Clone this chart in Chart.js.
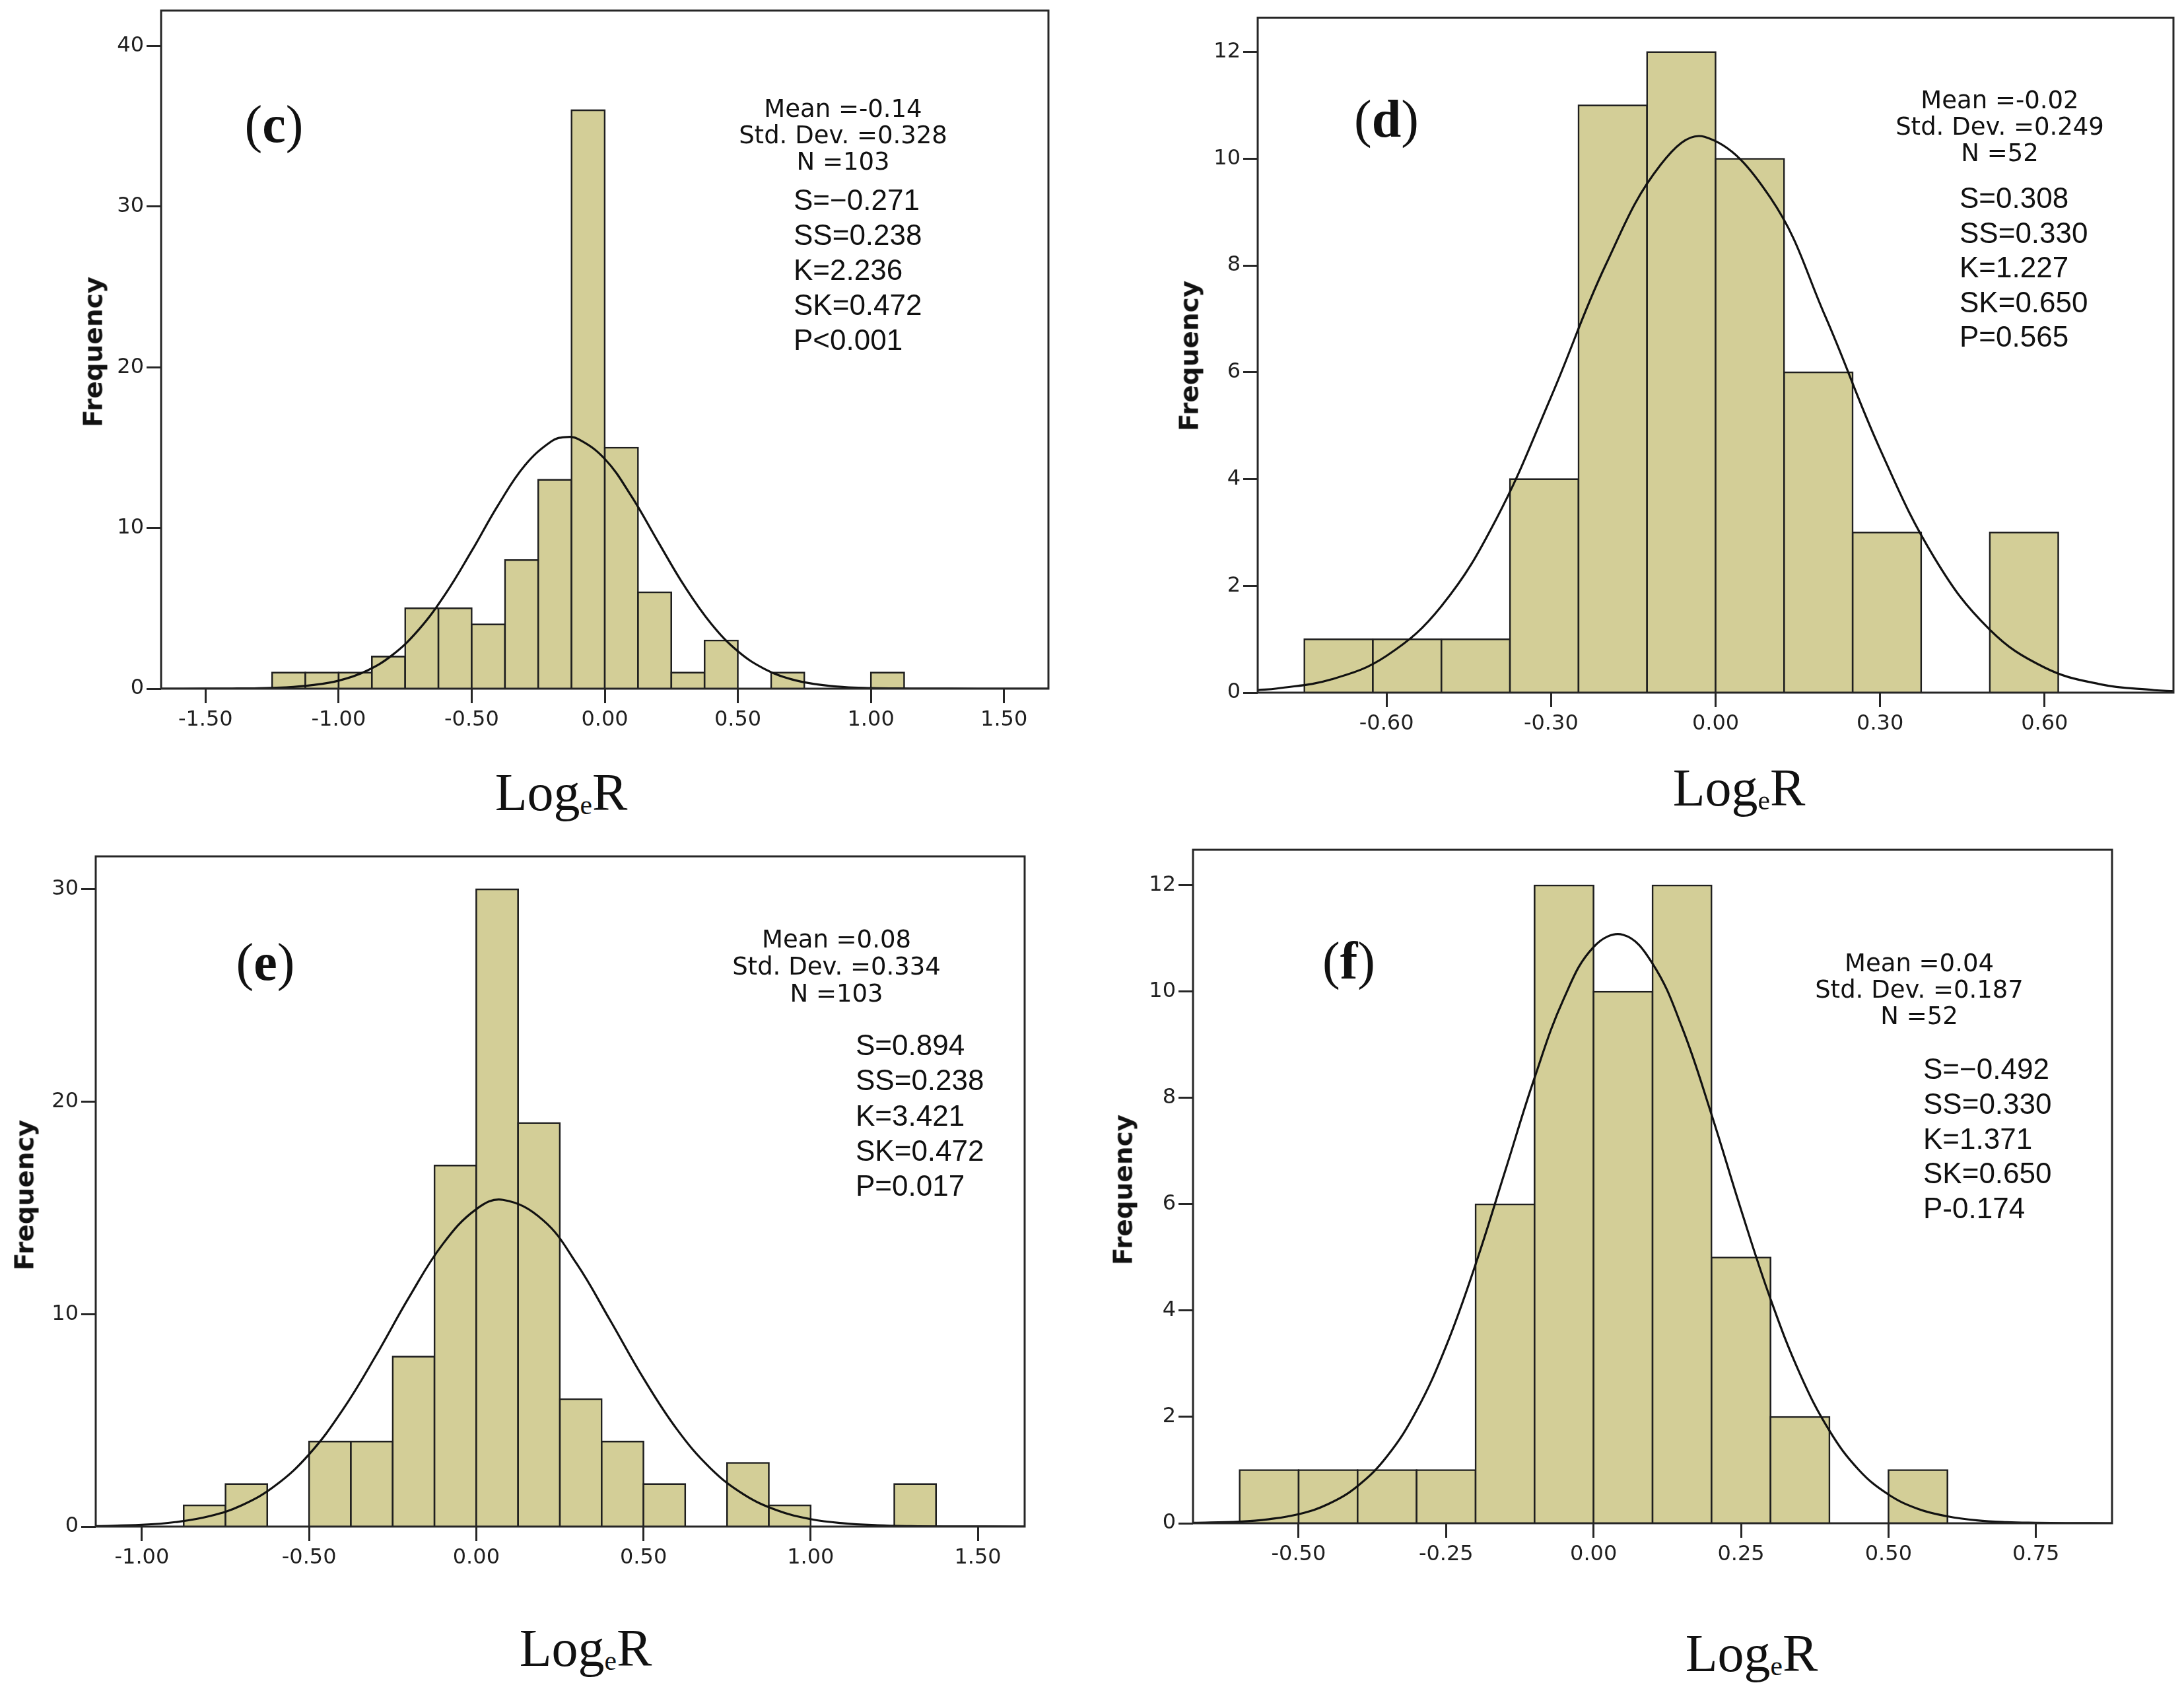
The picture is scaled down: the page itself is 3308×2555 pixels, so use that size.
<!DOCTYPE html>
<html>
<head>
<meta charset="utf-8">
<title>LogeR histograms</title>
<script src="https://cdn.jsdelivr.net/npm/chart.js@4"></script>
<style>
  body { margin: 0; background: #fff; }
  #page { position: relative; width: 3308px; height: 2555px; overflow: hidden; color: #111; }
  canvas { position: absolute; }
  .lbl { position: absolute; white-space: nowrap; line-height: 1; }
  .tag { font-family: "Liberation Serif", serif; font-size: 80px; transform: translate(-50%, -50%); }
  .tag b { font-weight: bold; }
  .stat { font-family: "DejaVu Sans", sans-serif; font-size: 37px; transform: translate(-50%, -50%); }
  .test { font-family: "Liberation Sans", sans-serif; font-size: 44px; transform: translateY(-50%); }
  .ytitle { font-family: "DejaVu Sans", sans-serif; font-weight: bold; font-size: 39px; transform: translate(-50%, -50%) rotate(-90deg); }
  .xtitle { font-family: "Liberation Serif", serif; font-size: 80px; transform: translate(-50%, -50%); }
  .xtitle sub { font-size: 0.52em; vertical-align: -0.15em; line-height: 0; }
</style>
</head>
<body>
<div id="page"></div>
<script>
// ---- panel (c) ----
const binsC = [-1.25, -1.125, -1.0, -0.875, -0.75, -0.625, -0.5, -0.375, -0.25, -0.125, 0, 0.125, 0.25, 0.375, 0.5, 0.625, 0.75, 0.875, 1.0];
const countsC = [1, 1, 1, 2, 5, 5, 4, 8, 13, 36, 15, 6, 1, 3, 0, 1, 0, 0, 1];
const curveXC = [-1.667, -1.5, -1.4, -1.3, -1.2, -1.1, -1.0, -0.9, -0.8, -0.7, -0.6, -0.5, -0.4, -0.3, -0.2, -0.15, -0.1, 0, 0.1, 0.2, 0.3, 0.4, 0.5, 0.6, 0.7, 0.8, 0.9, 1.0, 1.1, 1.2, 1.4, 1.667];
const curveYC = [0, 0.003, 0.01, 0.03, 0.08, 0.22, 0.50, 1.07, 2.07, 3.65, 5.86, 8.57, 11.44, 13.90, 15.40, 15.65, 15.54, 14.30, 11.98, 9.15, 6.37, 4.04, 2.33, 1.23, 0.59, 0.26, 0.10, 0.04, 0.012, 0.004, 0, 0];
const xTicksC = [-1.5, -1.0, -0.5, 0, 0.5, 1.0, 1.5];
const yTicksC = [0, 10, 20, 30, 40];
const statsC = ['Mean =-0.14', 'Std. Dev. =0.328', 'N =103'];
const testsC = ['S=\u22120.271', 'SS=0.238', 'K=2.236', 'SK=0.472', 'P<0.001'];

// ---- panel (d) ----
const binsD = [-0.75, -0.625, -0.5, -0.375, -0.25, -0.125, 0, 0.125, 0.25, 0.375, 0.5];
const countsD = [1, 1, 1, 4, 11, 12, 10, 6, 3, 0, 3];
const curveXD = [-0.835, -0.8, -0.7, -0.6, -0.5, -0.4, -0.3, -0.2, -0.1, -0.02, 0.1, 0.2, 0.3, 0.4, 0.5, 0.6, 0.7, 0.8, 0.835];
const curveYD = [0.049, 0.077, 0.25, 0.69, 1.62, 3.25, 5.54, 8.02, 9.89, 10.41, 9.27, 7.05, 4.56, 2.51, 1.18, 0.47, 0.16, 0.046, 0.029];
const xTicksD = [-0.6, -0.3, 0, 0.3, 0.6];
const yTicksD = [0, 2, 4, 6, 8, 10, 12];
const statsD = ['Mean =-0.02', 'Std. Dev. =0.249', 'N =52'];
const testsD = ['S=0.308', 'SS=0.330', 'K=1.227', 'SK=0.650', 'P=0.565'];

// ---- panel (e) ----
const binsE = [-0.875, -0.75, -0.625, -0.5, -0.375, -0.25, -0.125, 0, 0.125, 0.25, 0.375, 0.5, 0.625, 0.75, 0.875, 1.0, 1.125, 1.25];
const countsE = [1, 2, 0, 4, 4, 8, 17, 30, 19, 6, 4, 2, 0, 3, 1, 0, 0, 2];
const curveXE = [-1.138, -1.0, -0.9, -0.8, -0.7, -0.6, -0.5, -0.4, -0.3, -0.2, -0.1, 0, 0.08, 0.2, 0.3, 0.4, 0.5, 0.6, 0.7, 0.8, 0.9, 1.0, 1.1, 1.2, 1.3, 1.4, 1.64];
const curveYE = [0.02, 0.08, 0.21, 0.48, 1.01, 1.94, 3.40, 5.48, 8.05, 10.82, 13.30, 14.94, 15.38, 14.42, 12.38, 9.72, 6.98, 4.58, 2.75, 1.51, 0.76, 0.35, 0.15, 0.06, 0.02, 0.006, 0];
const xTicksE = [-1.0, -0.5, 0, 0.5, 1.0, 1.5];
const yTicksE = [0, 10, 20, 30];
const statsE = ['Mean =0.08', 'Std. Dev. =0.334', 'N =103'];
const testsE = ['S=0.894', 'SS=0.238', 'K=3.421', 'SK=0.472', 'P=0.017'];

// ---- panel (f) ----
const binsF = [-0.6, -0.5, -0.4, -0.3, -0.2, -0.1, 0, 0.1, 0.2, 0.3, 0.4, 0.5];
const countsF = [1, 1, 1, 1, 6, 12, 10, 12, 5, 2, 0, 1];
const curveXF = [-0.679, -0.6, -0.55, -0.5, -0.45, -0.4, -0.35, -0.3, -0.25, -0.2, -0.15, -0.1, -0.05, 0, 0.05, 0.1, 0.15, 0.2, 0.25, 0.3, 0.35, 0.4, 0.45, 0.5, 0.55, 0.6, 0.65, 0.7, 0.75, 0.8, 0.879];
const curveYF = [0.007, 0.03, 0.077, 0.17, 0.36, 0.70, 1.26, 2.12, 3.33, 4.87, 6.62, 8.38, 9.88, 10.84, 11.07, 10.53, 9.33, 7.69, 5.90, 4.22, 2.81, 1.74, 1.00, 0.54, 0.27, 0.13, 0.054, 0.02, 0.008, 0.003, 0];
const xTicksF = [-0.5, -0.25, 0, 0.25, 0.5, 0.75];
const yTicksF = [0, 2, 4, 6, 8, 10, 12];
const statsF = ['Mean =0.04', 'Std. Dev. =0.187', 'N =52'];
const testsF = ['S=\u22120.492', 'SS=0.330', 'K=1.371', 'SK=0.650', 'P-0.174'];

// layout: plot frame in page pixels, axis ranges and where the notes sit
const AXIS_W = 130, AXIS_H = 110, PAD_T = 10, PAD_R = 12;
const INK = '#1f1f1f';
const page = document.getElementById('page');

const framePlugin = {
    id: 'frame',
    afterDatasetsDraw(chart) {
        const { ctx, chartArea: a } = chart;
        ctx.save();
        ctx.strokeStyle = '#262626';
        ctx.lineWidth = 3;
        ctx.strokeRect(a.left, a.top, a.right - a.left, a.bottom - a.top);
        ctx.restore();
    }
};

function addLabel(cls, html, x, y) {
    const el = document.createElement('div');
    el.className = 'lbl ' + cls;
    el.innerHTML = html;
    el.style.left = x + 'px';
    el.style.top = y + 'px';
    page.appendChild(el);
}

function drawPanel(p) {
    const w = p.right - p.left + AXIS_W + PAD_R;
    const h = p.bottom - p.top + PAD_T + AXIS_H;
    const cv = document.createElement('canvas');
    cv.width = w;
    cv.height = h;
    cv.style.left = (p.left - AXIS_W) + 'px';
    cv.style.top = (p.top - PAD_T) + 'px';
    cv.style.width = w + 'px';
    cv.style.height = h + 'px';
    page.appendChild(cv);

    const barPts = p.bins.map((b, i) => ({ x: b + p.binW / 2, y: p.counts[i] }));
    const curvePts = p.curveX.map((x, i) => ({ x: x, y: p.curveY[i] }));
    const tickFont = { family: 'DejaVu Sans', size: 32 };
    const tickGrid = { display: true, offset: false, drawOnChartArea: false, drawTicks: true, tickLength: 22, tickWidth: 3, tickColor: '#262626' };

    new Chart(cv, {
        type: 'bar',
        data: {
            datasets: [
                {
                    type: 'line',
                    data: curvePts,
                    borderColor: '#111',
                    borderWidth: 3.2,
                    pointRadius: 0,
                    tension: 0.4,
                    fill: false,
                    order: 0
                },
                {
                    type: 'bar',
                    data: barPts,
                    backgroundColor: '#D3CE97',
                    borderColor: INK,
                    borderWidth: 2.6,
                    inflateAmount: 1.3,
                    borderSkipped: 'start',
                    barPercentage: 1,
                    categoryPercentage: 1,
                    order: 1
                }
            ]
        },
        options: {
            responsive: false,
            animation: false,
            layout: { padding: { top: PAD_T, right: PAD_R, left: 0, bottom: 0 } },
            plugins: { legend: { display: false }, tooltip: { enabled: false } },
            scales: {
                x: {
                    type: 'linear',
                    min: p.xMin,
                    max: p.xMax,
                    offset: false,
                    grid: tickGrid,
                    border: { display: false },
                    ticks: { font: tickFont, color: INK, padding: 6, maxRotation: 0, autoSkip: false, callback: v => Number(v).toFixed(2) },
                    afterBuildTicks: s => { s.ticks = p.xTicks.map(v => ({ value: v })); },
                    afterFit: s => { s.height = AXIS_H; s.paddingLeft = 0; s.paddingRight = 0; }
                },
                y: {
                    type: 'linear',
                    min: 0,
                    max: p.yMax,
                    grid: tickGrid,
                    border: { display: false },
                    ticks: { font: tickFont, color: INK, padding: 4, autoSkip: false, callback: v => String(v) },
                    afterBuildTicks: s => { s.ticks = p.yTicks.map(v => ({ value: v })); },
                    afterFit: s => { s.width = AXIS_W; s.paddingTop = 0; s.paddingBottom = 0; }
                }
            }
        },
        plugins: [framePlugin]
    });

    addLabel('tag', '(<b>' + p.tag + '</b>)', p.tagX, p.tagY);
    p.stats.forEach((t, i) => addLabel('stat', t, p.statX, p.statY + i * p.statGap));
    p.tests.forEach((t, i) => addLabel('test', t, p.testX, p.testY + i * p.testGap));
    addLabel('ytitle', 'Frequency', p.freqX, p.freqY);
    addLabel('xtitle', 'Log<sub>e</sub>R', p.logX, p.logY);
}

drawPanel({
    tag: 'c', bins: binsC, binW: 0.125, counts: countsC, curveX: curveXC, curveY: curveYC,
    xTicks: xTicksC, yTicks: yTicksC, stats: statsC, tests: testsC,
    left: 244, right: 1588, top: 16, bottom: 1043, xMin: -1.667, xMax: 1.667, yMax: 42.2,
    tagX: 415, tagY: 188, statX: 1277, statY: 164, statGap: 40, testX: 1202, testY: 303, testGap: 53,
    freqX: 141, freqY: 533, logX: 850, logY: 1200
});

drawPanel({
    tag: 'd', bins: binsD, binW: 0.125, counts: countsD, curveX: curveXD, curveY: curveYD,
    xTicks: xTicksD, yTicks: yTicksD, stats: statsD, tests: testsD,
    left: 1905, right: 3292, top: 27, bottom: 1049, xMin: -0.835, xMax: 0.835, yMax: 12.64,
    tagX: 2100, tagY: 180, statX: 3029, statY: 151, statGap: 40, testX: 2968, testY: 300, testGap: 52.5,
    freqX: 1801, freqY: 539, logX: 2634, logY: 1193
});

drawPanel({
    tag: 'e', bins: binsE, binW: 0.125, counts: countsE, curveX: curveXE, curveY: curveYE,
    xTicks: xTicksE, yTicks: yTicksE, stats: statsE, tests: testsE,
    left: 145, right: 1552, top: 1297, bottom: 2312, xMin: -1.138, xMax: 1.64, yMax: 31.55,
    tagX: 402, tagY: 1457, statX: 1267, statY: 1422, statGap: 41, testX: 1296, testY: 1583, testGap: 53.3,
    freqX: 37, freqY: 1810, logX: 887, logY: 2496
});

drawPanel({
    tag: 'f', bins: binsF, binW: 0.1, counts: countsF, curveX: curveXF, curveY: curveYF,
    xTicks: xTicksF, yTicks: yTicksF, stats: statsF, tests: testsF,
    left: 1807, right: 3199, top: 1287, bottom: 2307, xMin: -0.679, xMax: 0.879, yMax: 12.67,
    tagX: 2043, tagY: 1455, statX: 2907, statY: 1458, statGap: 40, testX: 2913, testY: 1619, testGap: 52.8,
    freqX: 1701, freqY: 1802, logX: 2653, logY: 2504
});
</script>
</body>
</html>
